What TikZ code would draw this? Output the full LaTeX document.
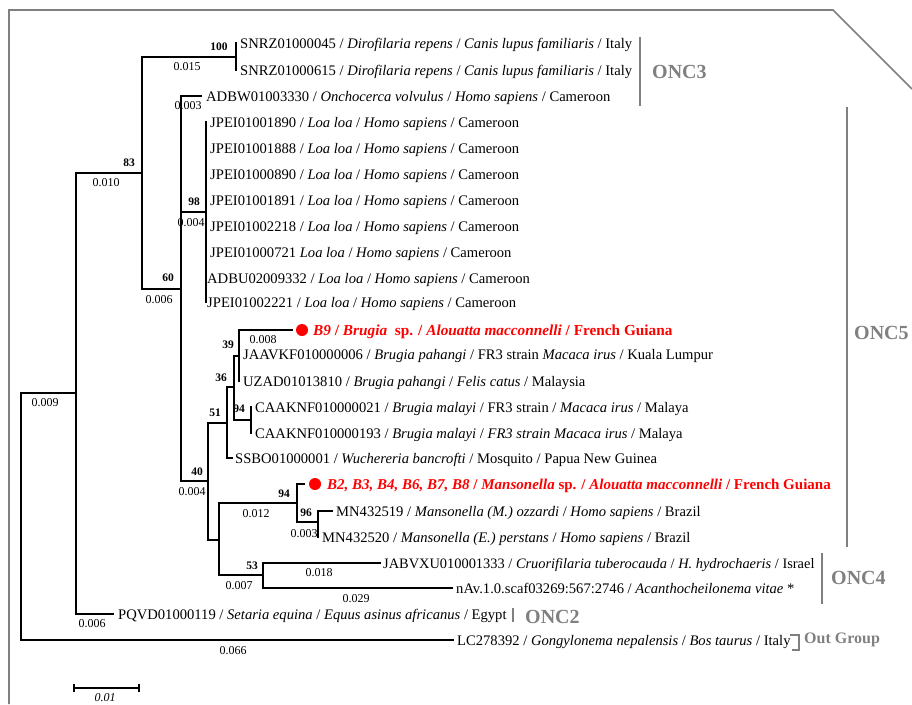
\documentclass[tikz,border=0pt]{standalone}
\usepackage{fontspec}
\setmainfont{Liberation Serif}
\definecolor{grpgray}{RGB}{128,128,128}
\definecolor{hlred}{RGB}{255,0,0}
\begin{document}
\begin{tikzpicture}[x=1pt,y=-1pt,
  br/.style={line width=1.2pt,line cap=rect},
  leaf/.style={anchor=base west,inner sep=0pt,font=\fontsize{14.6}{16}\selectfont},
  boot/.style={inner sep=0pt,font=\fontsize{11.5}{13}\selectfont\bfseries},
  blen/.style={inner sep=0pt,font=\fontsize{12}{13}\selectfont},
  grpbar/.style={draw=grpgray,line width=1.6pt},
  grplab/.style={anchor=west,inner sep=0pt,text=grpgray,font=\fontsize{20}{22}\selectfont\bfseries},
  dot/.style={circle,fill=hlred,inner sep=0pt,minimum size=12pt},
  hl/.style={text=hlred,font=\fontsize{15.3}{17}\selectfont\bfseries}
]
\useasboundingbox (0,0) rectangle (912,704);
% frame
\draw[grpgray,line width=1.6pt] (9,704) -- (9,10) -- (833,10) -- (912,89);

% internal nodes
\coordinate (R) at (21,516);
\coordinate (A) at (76,393);
\coordinate (B) at (142,173);
\coordinate (C) at (236,57);
\coordinate (D) at (181,289);
\coordinate (E) at (206,212);
\coordinate (F) at (208,481);
\coordinate (G) at (227,423);
\coordinate (I) at (234,387);
\coordinate (J) at (239,356);
\coordinate (K) at (251,420);
\coordinate (H) at (219,540);
\coordinate (L) at (297,503);
\coordinate (N) at (318,522);
\coordinate (M) at (263,575);

% leaf ends
\coordinate (l1) at (236,43);
\coordinate (l2) at (236,70);
\coordinate (l3) at (201,96);
\coordinate (l4) at (206,122);
\coordinate (l5) at (206,148);
\coordinate (l6) at (206,174);
\coordinate (l7) at (206,200);
\coordinate (l8) at (206,226);
\coordinate (l9) at (206,252);
\coordinate (l10) at (206,278);
\coordinate (l11) at (206,302);
\coordinate (l12) at (292,330);
\coordinate (l13) at (239,354);
\coordinate (l14) at (239,381);
\coordinate (l15) at (251,407);
\coordinate (l16) at (251,433);
\coordinate (l17) at (232,458);
\coordinate (l18) at (304,484);
\coordinate (l19) at (332,511);
\coordinate (l20) at (318,537);
\coordinate (l21) at (380,563);
\coordinate (l22) at (452,588);
\coordinate (l23) at (113,614);
\coordinate (l24) at (453,640);

% branches
\draw[br] (A) -| (R);
\draw[br] (l24) -| (R);
\draw[br] (B) -| (A);
\draw[br] (l23) -| (A);
\draw[br] (C) -| (B);
\draw[br] (D) -| (B);
\draw[br] (l1) -| (C);
\draw[br] (l2) -| (C);
\draw[br] (l3) -| (D);
\draw[br] (E) -| (D);
\draw[br] (F) -| (D);
\foreach \k in {4,...,11} {\draw[br] (l\k) -| (E);}
\draw[br] (G) -| (F);
\draw[br] (H) -| (F);
\draw[br] (I) -| (G);
\draw[br] (l17) -| (G);
\draw[br] (J) -| (I);
\draw[br] (K) -| (I);
\draw[br] (l12) -| (J);
\draw[br] (l13) -| (J);
\draw[br] (l14) -| (J);
\draw[br] (l15) -| (K);
\draw[br] (l16) -| (K);
\draw[br] (L) -| (H);
\draw[br] (M) -| (H);
\draw[br] (l18) -| (L);
\draw[br] (N) -| (L);
\draw[br] (l19) -| (N);
\draw[br] (l20) -| (N);
\draw[br] (l21) -| (M);
\draw[br] (l22) -| (M);

% red dots
\node[dot] (d1) at (302,330) {};
\node[dot] (d2) at (315,484) {};

% leaf labels
\node[leaf] (t1) at (240,48) {SNRZ01000045 / \textit{Dirofilaria repens} / \textit{Canis lupus familiaris} / Italy};
\node[leaf] (t2) at (240,75) {SNRZ01000615 / \textit{Dirofilaria repens} / \textit{Canis lupus familiaris} / Italy};
\node[leaf] (t3) at (206,101) {ADBW01003330 / \textit{Onchocerca volvulus} / \textit{Homo sapiens} / Cameroon};
\node[leaf] (t4) at (210,127) {JPEI01001890 / \textit{Loa loa} / \textit{Homo sapiens} / Cameroon};
\node[leaf] (t5) at (210,153) {JPEI01001888 / \textit{Loa loa} / \textit{Homo sapiens} / Cameroon};
\node[leaf] (t6) at (210,179) {JPEI01000890 / \textit{Loa loa} / \textit{Homo sapiens} / Cameroon};
\node[leaf] (t7) at (210,205) {JPEI01001891 / \textit{Loa loa} / \textit{Homo sapiens} / Cameroon};
\node[leaf] (t8) at (210,231) {JPEI01002218 / \textit{Loa loa} / \textit{Homo sapiens} / Cameroon};
\node[leaf] (t9) at (210,257) {JPEI01000721 \textit{Loa loa} / \textit{Homo sapiens} / Cameroon};
\node[leaf] (t10) at (207,283) {ADBU02009332 / \textit{Loa loa} / \textit{Homo sapiens} / Cameroon};
\node[leaf] (t11) at (207,307) {JPEI01002221 / \textit{Loa loa} / \textit{Homo sapiens} / Cameroon};
\node[leaf,hl] (t12) at (313,335) {\textit{B9} / \textit{Brugia}\ \ sp. / \textit{Alouatta macconnelli} / French Guiana};
\node[leaf] (t13) at (243,359) {JAAVKF010000006 / \textit{Brugia pahangi} / FR3 strain \textit{Macaca irus} / Kuala Lumpur};
\node[leaf] (t14) at (243,386) {UZAD01013810 / \textit{Brugia pahangi} / \textit{Felis catus} / Malaysia};
\node[leaf] (t15) at (255,412) {CAAKNF010000021 / \textit{Brugia malayi} / FR3 strain / \textit{Macaca irus} / Malaya};
\node[leaf] (t16) at (255,438) {CAAKNF010000193 / \textit{Brugia malayi} / \textit{FR3 strain Macaca irus} / Malaya};
\node[leaf] (t17) at (235,463) {SSBO01000001 / \textit{Wuchereria bancrofti} / Mosquito / Papua New Guinea};
\node[leaf,hl,font=\fontsize{15}{17}\selectfont\bfseries] (t18) at (327,489) {\textit{B2, B3, B4, B6, B7, B8} / \textit{Mansonella} sp. / \textit{Alouatta macconnelli} / French Guiana};
\node[leaf] (t19) at (336,516) {MN432519 / \textit{Mansonella (M.) ozzardi} / \textit{Homo sapiens} / Brazil};
\node[leaf] (t20) at (322,542) {MN432520 / \textit{Mansonella (E.) perstans} / \textit{Homo sapiens} / Brazil};
\node[leaf,font=\fontsize{14.4}{16}\selectfont] (t21) at (383,568) {JABVXU010001333 / \textit{Cruorifilaria tuberocauda} / \textit{H. hydrochaeris} / Israel};
\node[leaf] (t22) at (456,593) {nAv.1.0.scaf03269:567:2746 / \textit{Acanthocheilonema vitae} *};
\node[leaf] (t23) at (118,619) {PQVD01000119 / \textit{Setaria equina} / \textit{Equus asinus africanus} / Egypt};
\node[leaf] (t24) at (457,645) {LC278392 / \textit{Gongylonema nepalensis} / \textit{Bos taurus} / Italy};

% bootstrap values
\node[boot] (b100) at (219,47) {100};
\node[boot] (b83) at (129,163) {83};
\node[boot] (b98) at (194,202) {98};
\node[boot] (b60) at (168,278) {60};
\node[boot] (b40) at (197,472) {40};
\node[boot] (b51) at (215,413) {51};
\node[boot] (b36) at (221,378) {36};
\node[boot] (b39) at (228,345) {39};
\node[boot] (b94a) at (239,409) {94};
\node[boot] (b94b) at (284,494) {94};
\node[boot] (b96) at (306,513) {96};
\node[boot] (b53) at (252,566) {53};

% branch lengths
\node[blen] (v1) at (187,67) {0.015};
\node[blen] (v2) at (106,183) {0.010};
\node[blen] (v3) at (188,106) {0.003};
\node[blen] (v4) at (191,223) {0.004};
\node[blen] (v5) at (159,300) {0.006};
\node[blen] (v6) at (45,403) {0.009};
\node[blen] (v7) at (92,624) {0.006};
\node[blen] (v8) at (233,651) {0.066};
\node[blen] (v9) at (192,492) {0.004};
\node[blen] (v10) at (263,340) {0.008};
\node[blen] (v11) at (256,514) {0.012};
\node[blen] (v12) at (304,534) {0.003};
\node[blen] (v13) at (239,586) {0.007};
\node[blen] (v14) at (319,573) {0.018};
\node[blen] (v15) at (356,599) {0.029};

% scale bar
\coordinate (s1) at (74,688);
\coordinate (s2) at (139,688);
\draw[line width=1.2pt] (s1) -- (s2);
\draw[line width=1.2pt] ([yshift=-4pt]s1) -- ([yshift=4pt]s1);
\draw[line width=1.2pt] ([yshift=-4pt]s2) -- ([yshift=4pt]s2);
\node[blen,font=\fontsize{12}{13}\selectfont\itshape] (sl) at (105,698) {0.01};

% group bars and labels
\draw[grpbar] (640,37) -- (640,106);
\node[grplab] (g3) at (652,72) {ONC3};
\draw[grpbar] (847,107) -- (847,547);
\node[grplab] (g5) at (854,333) {ONC5};
\draw[grpbar] (822,553) -- (822,604);
\node[grplab] (g4) at (831,578) {ONC4};
\draw[grpbar] (513,608) -- (513,622);
\node[grplab] (g2) at (525,617) {ONC2};
\draw[grpbar,line width=1.4pt] (790,635) -- (799,635) -- (799,650) -- (792,650);
\node[grplab,font=\fontsize{16}{18}\selectfont\bfseries] (gout) at (804,640) {Out Group};
\end{tikzpicture}
\end{document}
